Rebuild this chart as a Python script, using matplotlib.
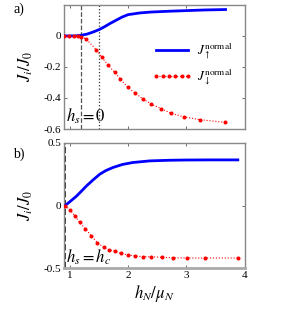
import matplotlib
matplotlib.use("Agg")
import matplotlib.pyplot as plt

plt.rcParams["font.family"] = ["Liberation Serif", "DejaVu Serif"]
plt.rcParams["mathtext.fontset"] = "stix"

# panel a) h_s = 0
a_up_x = [0.9, 1.0, 1.1, 1.2, 1.3, 1.4, 1.5, 1.6, 1.7, 1.8, 1.9, 2.0, 2.2, 2.4, 2.7, 3.0, 3.3, 3.67]
a_up_y = [0.0, 0.0, 0.0, 0.004, 0.012, 0.025, 0.04, 0.06, 0.082, 0.102, 0.122, 0.137, 0.148, 0.154, 0.159, 0.163, 0.167, 0.170]
a_dn_x = [0.9, 0.985, 1.07, 1.15, 1.2, 1.285, 1.456, 1.55, 1.654, 1.769, 1.866, 1.996, 2.123, 2.253,
          2.396, 2.567, 2.738, 2.966, 3.234, 3.667]
a_dn_y = [0.0, 0.0, 0.0, 0.0, -0.004, -0.021, -0.09, -0.137, -0.187, -0.234, -0.279, -0.331, -0.37, -0.406,
          -0.439, -0.469, -0.499, -0.522, -0.54, -0.557]
a_vlines = [1.2, 1.5]

# panel b) h_s = h_c
b_up_x = [0.92, 1.0, 1.115, 1.2, 1.285, 1.4, 1.513, 1.62, 1.74, 1.9, 2.08, 2.37, 2.7, 3.0, 3.4, 3.88]
b_up_y = [0.0, 0.03, 0.075, 0.115, 0.156, 0.205, 0.25, 0.28, 0.304, 0.328, 0.344, 0.357, 0.362, 0.364, 0.365, 0.365]
b_dn_x = [0.92, 1.0, 1.085, 1.171, 1.268, 1.371, 1.474, 1.581, 1.672, 1.769, 1.872, 1.996, 2.123, 2.253,
          2.397, 2.585, 2.778, 3.01, 3.32, 3.877]
b_dn_y = [0.0, -0.032, -0.081, -0.135, -0.186, -0.242, -0.296, -0.333, -0.355, -0.363, -0.381, -0.395, -0.403, -0.409,
          -0.409, -0.414, -0.417, -0.419, -0.419, -0.419]
b_vline = 0.92

fig = plt.figure(figsize=(3.0, 3.25), dpi=100)
ax1 = fig.add_axes([0.213, 0.603, 0.603, 0.382])
ax2 = fig.add_axes([0.213, 0.175, 0.603, 0.385])

blue = "#0000ff"
red = "#ff0000"

for ax in (ax1, ax2):
    ax.set_xlim(0.9, 4)
    ax.set_xticks([1, 2, 3, 4])
    ax.tick_params(direction="in", top=True, right=True, labelsize=8, length=2.5,
                   color="#555555", width=0.6, pad=2)
    for s in ax.spines.values():
        s.set_color("#888888")
        s.set_linewidth(1.0)
    ax.set_ylabel(r"$J_i/J_0$", fontsize=12, labelpad=6)

# top panel
ax1.plot(a_up_x, a_up_y, color=blue, lw=2, label=r"$J_{\uparrow}^{\rm normal}$", zorder=3)
ax1.plot(a_dn_x, a_dn_y, color=red, ls=":", lw=0.8, marker="o", ms=1.9, label=r"$J_{\downarrow}^{\rm normal}$", zorder=3)
ax1.axvline(a_vlines[0], color="#555555", ls="--", lw=0.9)
ax1.axvline(a_vlines[1], color="#333333", ls=":", lw=0.9)
ax1.set_ylim(-0.6, 0.2)
ax1.set_yticks([0, -0.2, -0.4, -0.6])
ax1.set_yticklabels(["0", "-0.2", "-0.4", "-0.6"])
ax1.set_xticklabels([])
ax1.text(0.93, -0.52, r"$h_s=0$", fontsize=12, va="center")
ax1.legend(loc="upper right", bbox_to_anchor=(1.0, 0.80), frameon=False, fontsize=9.5,
           handlelength=3.0, handletextpad=0.4, labelspacing=0.45, numpoints=6)
fig.text(0.045, 0.96, "a)", fontsize=10)

# bottom panel
ax2.plot(b_up_x, b_up_y, color=blue, lw=2, zorder=3)
ax2.plot(b_dn_x, b_dn_y, color=red, ls=":", lw=0.8, marker="o", ms=1.9, zorder=3)
ax2.axvline(b_vline, color="#111111", ls="--", lw=1.2)
ax2.set_ylim(-0.5, 0.5)
ax2.set_yticks([0.5, 0, -0.5])
ax2.set_yticklabels(["0.5", "0", "-0.5"])
ax2.spines["bottom"].set_linewidth(2.0)
ax2.spines["bottom"].set_color("#aaaaaa")
ax2.text(0.93, -0.41, r"$h_s=h_c$", fontsize=12, va="center")
ax2.set_xlabel(r"$h_N/\mu_N$", fontsize=12, labelpad=2)
fig.text(0.045, 0.515, "b)", fontsize=10)

fig.savefig("out.png", dpi=100)
